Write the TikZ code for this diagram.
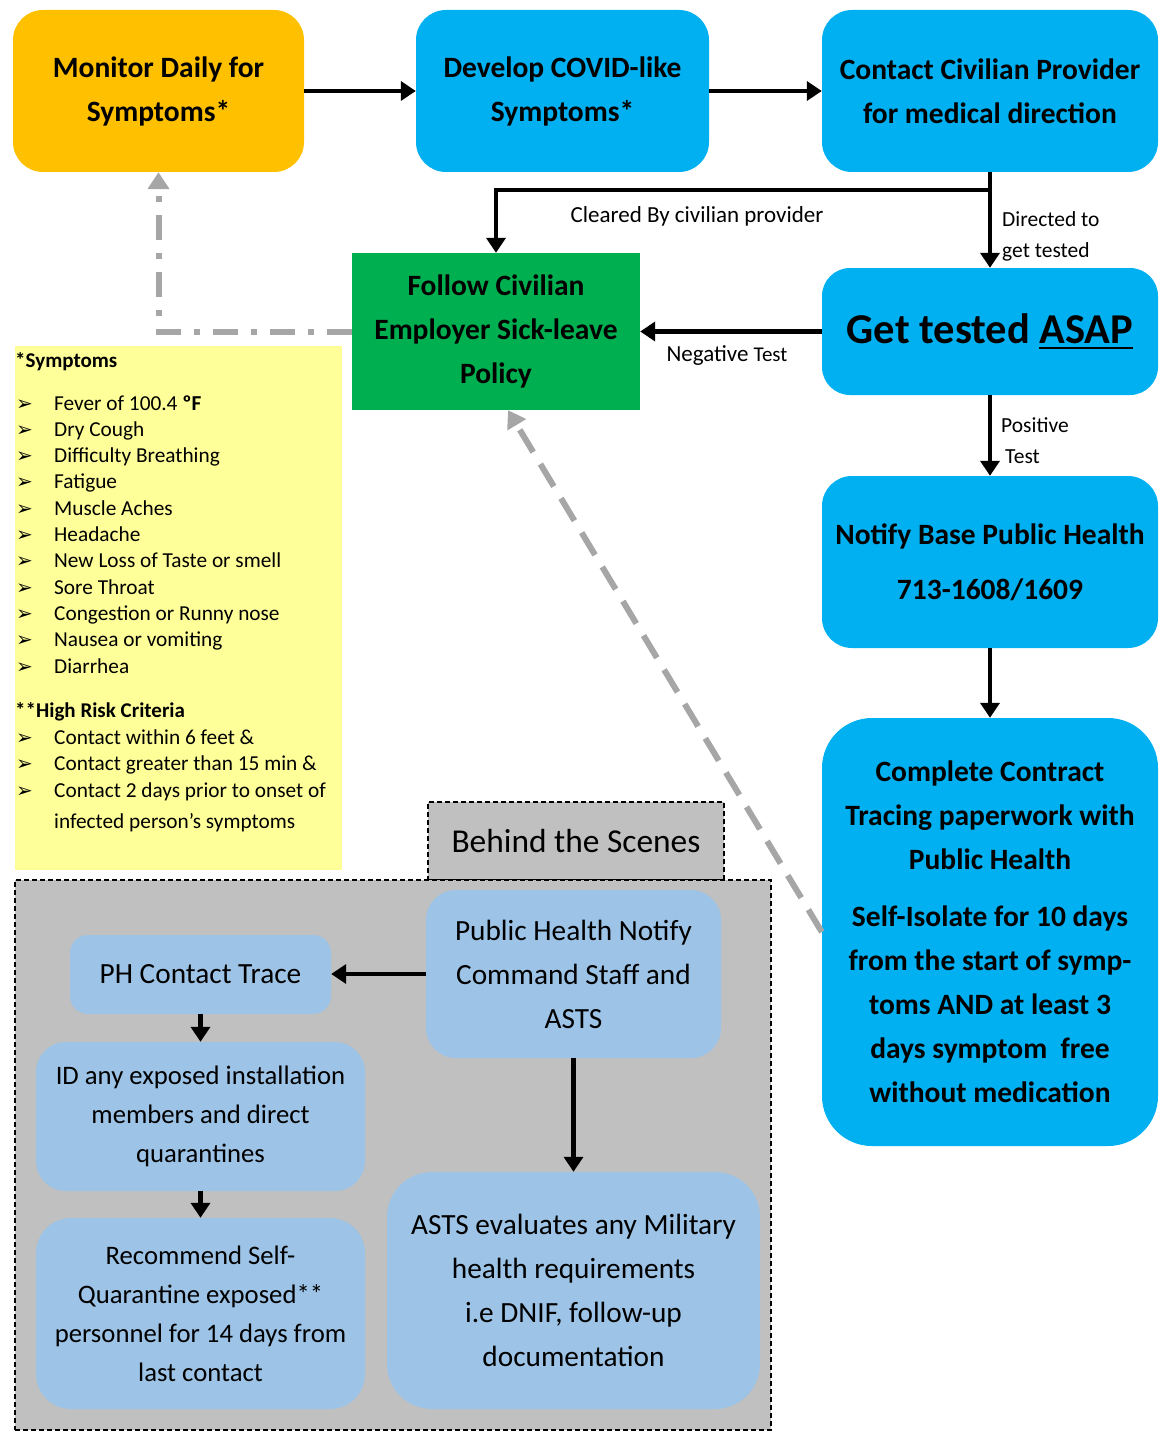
\documentclass[tikz,border=0pt]{standalone}
\usepackage{fontspec}
\setmainfont{Carlito}
\newfontfamily\dingfont{DejaVu Sans}
\usetikzlibrary{arrows.meta,positioning,calc}

\definecolor{monitorc}{HTML}{FFC000}
\definecolor{bluec}{HTML}{00B0F0}
\definecolor{greenc}{HTML}{00B050}
\definecolor{yellowc}{HTML}{FFFF99}
\definecolor{scenec}{HTML}{C0C0C0}
\definecolor{lightc}{HTML}{9DC3E6}
\definecolor{grayarrc}{HTML}{A6A6A6}

\newcommand\thickul[1]{\setbox0\hbox{#1}\rlap{\rule[-6pt]{\wd0}{2.8pt}}\box0}

\tikzset{
  flow/.style={rounded corners=30pt, inner sep=0pt, align=center,
    font=\fontsize{29.5}{44}\selectfont\bfseries},
  behind/.style={rounded corners=30pt, inner sep=0pt, align=center, fill=lightc,
    font=\fontsize{29.3}{44}\selectfont},
  arr/.style={line width=4.5pt, -{Triangle[length=15pt,width=19pt]}},
  grayarr/.style={line width=6pt, grayarrc, -{Triangle[length=17pt,width=21pt]}},
  lbl/.style={inner sep=0pt, font=\fontsize{23}{31}\selectfont},
  item/.style={anchor=base west, inner sep=0pt, font=\fontsize{21.3}{22}\selectfont},
  bullet/.style={anchor=base west, inner sep=0pt, font=\fontsize{20}{22}\dingfont},
  dashbox/.style={draw=black, line width=1.3pt, dash pattern=on 5pt off 3pt, fill=scenec}
}

\begin{document}
\begin{tikzpicture}[x=1pt,y=-1pt]
\useasboundingbox (0,0) rectangle (1159,1431);

% main flow
\node[flow, fill=monitorc, minimum width=291, minimum height=162] (monitor) at (158.5,91) {Monitor Daily for\\Symptoms*};
\node[flow, fill=bluec, minimum width=293, minimum height=162] (develop) at (562.5,91) {Develop COVID-like\\Symptoms*};
\node[flow, fill=bluec, minimum width=336, minimum height=162] (contact) at (990,91) {Contact Civilian Provider\\for medical direction};
\node[flow, fill=greenc, sharp corners, minimum width=288, minimum height=157] (follow) at (496,331.5) {Follow Civilian\\Employer Sick-leave\\Policy};
\node[flow, fill=bluec, rounded corners=28pt, minimum width=336, minimum height=127, font=\fontsize{42.5}{44}\selectfont\bfseries] (gettest) at (990,331.5) {Get tested \thickul{ASAP}};
\node[flow, fill=bluec, minimum width=336, minimum height=172, font=\fontsize{29.5}{55}\selectfont\bfseries] (notify) at (990,562) {Notify Base Public Health\\713-1608/1609};
\node[flow, fill=bluec, rounded corners=50pt, minimum width=336, minimum height=428] (complete) at (990,932) {Complete Contract\\Tracing paperwork with\\Public Health\\[13pt]Self-Isolate for 10 days\\from the start of symp-\\toms AND at least 3\\days symptom~~free\\without medication};

% symptom list
\node[fill=yellowc, inner sep=0pt, minimum width=327, minimum height=524, anchor=north west] (symptoms) at (15,346) {};
\node[item, font=\fontsize{21}{22}\selectfont\bfseries] (symhead) at (15,367) {*Symptoms};
\foreach \s [count=\i from 0] in {{Fever of 100.4 \textbf{ºF}}, Dry Cough, Difficulty Breathing, Fatigue, Muscle Aches, Headache, New Loss of Taste or smell, Sore Throat, Congestion or Runny nose, Nausea or vomiting, Diarrhea} {
  \node[bullet] (symb\i) at (16,{410+\i*26.3}) {➢};
  \node[item] (sym\i) at (54,{410+\i*26.3}) {\s};
}
\node[item, font=\fontsize{21}{22}\selectfont\bfseries] (riskhead) at (15,717) {**High Risk Criteria};
\foreach \s [count=\i from 0] in {Contact within 6 feet \&, Contact greater than 15 min \&, Contact 2 days prior to onset of} {
  \node[bullet] (riskb\i) at (16,{744+\i*26.5}) {➢};
  \node[item] (risk\i) at (54,{744+\i*26.5}) {\s};
}
\node[item] (risk3) at (54,828) {infected person’s symptoms};

% behind the scenes
\node[dashbox, minimum width=296, minimum height=78, inner sep=0pt, font=\fontsize{33.4}{34}\selectfont] (tab) at (576,841) {Behind the Scenes};
\node[dashbox, minimum width=756, minimum height=550, inner sep=0pt] (scenes) at (393,1155) {};
\node[behind, rounded corners=18pt, minimum width=261, minimum height=79] (trace) at (200.5,974.5) {PH Contact Trace};
\node[behind, minimum width=329, minimum height=149, font=\fontsize{26.7}{39}\selectfont] (idexp) at (200.5,1116.5) {ID any exposed installation\\members and direct\\quarantines};
\node[behind, rounded corners=35pt, minimum width=329, minimum height=191, font=\fontsize{26.7}{39}\selectfont] (recommend) at (200.5,1313.5) {Recommend Self-\\Quarantine exposed**\\personnel for 14 days from\\last contact};
\node[behind, minimum width=295, minimum height=168] (phnotify) at (573.5,974) {Public Health Notify\\Command Staff and\\ASTS};
\node[behind, rounded corners=45pt, minimum width=373, minimum height=237] (asts) at (573.5,1290.5) {ASTS evaluates any Military\\health requirements\\i.e DNIF, follow-up\\documentation};

% connectors
\coordinate (split) at (990,190);
\draw[arr] (monitor) -- (develop);
\draw[arr] (develop) -- (contact);
\draw[arr] (contact.south) -- (gettest.north);
\draw[arr] (split) -| (follow.north);
\draw[arr] (gettest) -- (follow);
\draw[arr] (gettest) -- (notify);
\draw[arr] (notify) -- (complete);
\draw[grayarr, dash pattern=on 26pt off 14pt] (complete.west) -- ([xshift=12pt]follow.south);
\draw[grayarr, dash pattern=on 25pt off 13pt on 6pt off 13pt] (follow.west) -| (monitor.south);
\draw[arr] (phnotify.west) -- (phnotify.west -| trace.east);
\draw[arr] (trace) -- (idexp);
\draw[arr] (idexp) -- (recommend);
\draw[arr] (phnotify) -- (asts);

% connector labels
\node[lbl] (clearedlbl) at (697,216) {Cleared By civilian provider};
\node[lbl, font=\fontsize{21.5}{31}\selectfont, anchor=west, align=left] (directedlbl) at (1002,236) {Directed to\\get tested};
\node[lbl] (negativelbl) at (727,356) {Negative {\fontsize{21}{22}\selectfont Test}};
\node[lbl, font=\fontsize{21.5}{31}\selectfont, anchor=west, align=left] (positivelbl) at (1001,441) {Positive\\\hspace{4pt}Test};
\end{tikzpicture}
\end{document}
